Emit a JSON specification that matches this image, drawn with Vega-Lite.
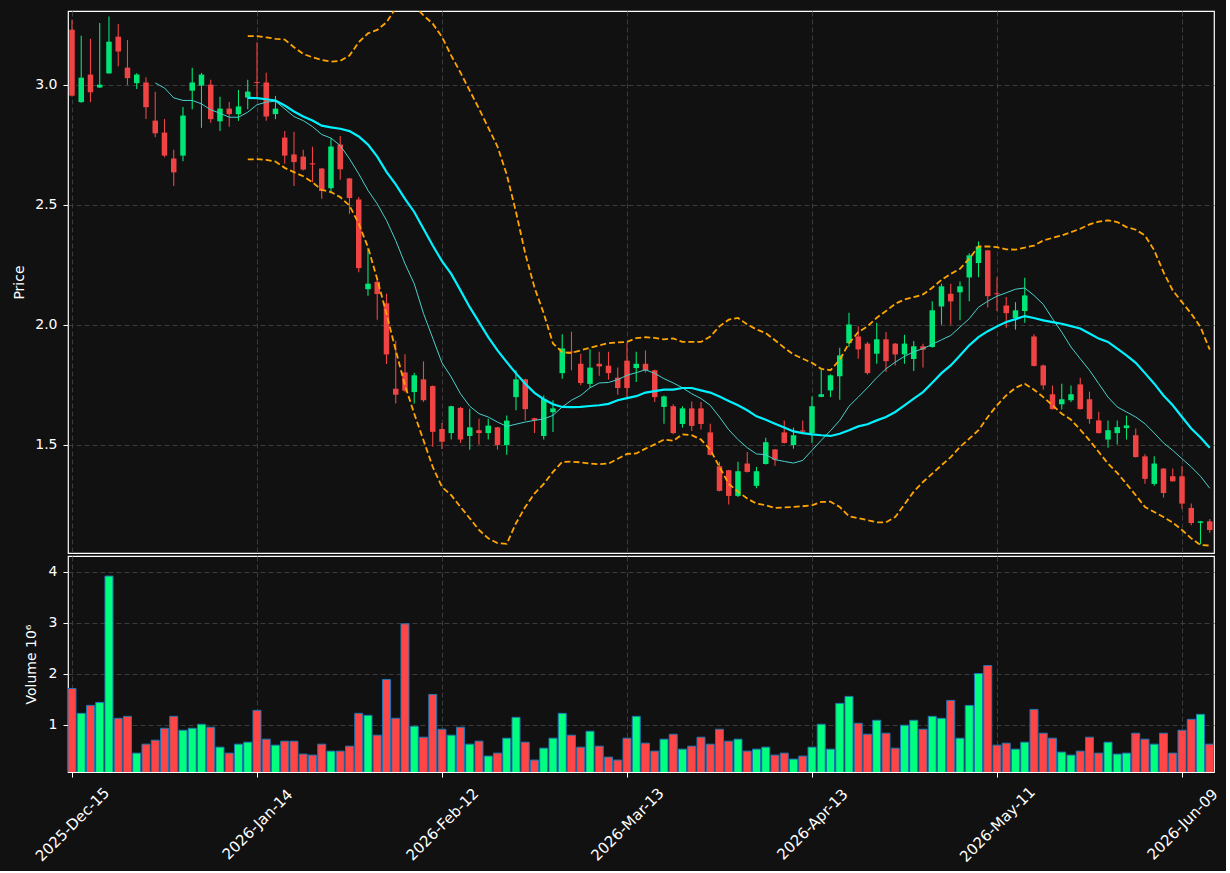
{
"$schema": "https://vega.github.io/schema/vega-lite/v6.json",
"background": "#111111",
"padding": {"left": 12, "top": 10, "right": 5, "bottom": 5},
"autosize": {"type": "pad"},
"spacing": 1,
"config": {
  "font": "DejaVu Sans",
  "view": {"stroke": "#ffffff", "strokeWidth": 1.2},
  "axis": {"domain": false, "labelColor": "#ffffff", "titleColor": "#ffffff", "tickColor": "#ffffff", "labelFontSize": 14, "titleFontSize": 14, "titleFontWeight": "normal", "tickSize": 5, "tickWidth": 1, "gridColor": "#3c3c3c", "gridDash": [5, 3], "gridWidth": 1, "labelPadding": 6}
},
"datasets": {"d": [
{"i":0,"date":"2025-12-15","o":3.230,"h":3.272,"l":2.952,"c":2.955,"v":1.714},
{"i":1,"date":"2025-12-16","o":2.928,"h":3.205,"l":2.925,"c":3.030,"v":1.227},
{"i":2,"date":"2025-12-17","o":3.043,"h":3.192,"l":2.928,"c":2.969,"v":1.383},
{"i":3,"date":"2025-12-18","o":2.989,"h":3.258,"l":2.987,"c":3.001,"v":1.442},
{"i":4,"date":"2025-12-19","o":3.048,"h":3.285,"l":3.046,"c":3.180,"v":3.916},
{"i":5,"date":"2025-12-22","o":3.201,"h":3.254,"l":3.078,"c":3.139,"v":1.130},
{"i":6,"date":"2025-12-23","o":3.072,"h":3.187,"l":3.000,"c":3.028,"v":1.169},
{"i":7,"date":"2025-12-24","o":3.007,"h":3.048,"l":2.983,"c":3.043,"v":0.448},
{"i":8,"date":"2025-12-26","o":3.010,"h":3.032,"l":2.858,"c":2.907,"v":0.623},
{"i":9,"date":"2025-12-29","o":2.851,"h":2.971,"l":2.782,"c":2.798,"v":0.701,"ma10":3.008},
{"i":10,"date":"2025-12-30","o":2.801,"h":2.858,"l":2.698,"c":2.705,"v":0.935,"ma10":2.987},
{"i":11,"date":"2025-12-31","o":2.693,"h":2.729,"l":2.578,"c":2.635,"v":1.169,"ma10":2.946},
{"i":12,"date":"2026-01-02","o":2.705,"h":2.908,"l":2.682,"c":2.872,"v":0.896,"ma10":2.935},
{"i":13,"date":"2026-01-05","o":2.976,"h":3.071,"l":2.898,"c":3.010,"v":0.935,"ma10":2.935},
{"i":14,"date":"2026-01-06","o":2.997,"h":3.050,"l":2.821,"c":3.043,"v":1.013,"ma10":2.921},
{"i":15,"date":"2026-01-07","o":3.001,"h":3.021,"l":2.842,"c":2.857,"v":0.955,"ma10":2.896},
{"i":16,"date":"2026-01-08","o":2.848,"h":2.950,"l":2.808,"c":2.901,"v":0.565,"ma10":2.882},
{"i":17,"date":"2026-01-09","o":2.901,"h":2.929,"l":2.825,"c":2.878,"v":0.448,"ma10":2.865},
{"i":18,"date":"2026-01-12","o":2.878,"h":2.979,"l":2.850,"c":2.910,"v":0.623,"ma10":2.865},
{"i":19,"date":"2026-01-13","o":2.947,"h":3.021,"l":2.898,"c":2.972,"v":0.662,"ma10":2.886,"ma20":2.946,"up":3.203,"lo":2.689},
{"i":20,"date":"2026-01-14","o":3.012,"h":3.178,"l":2.948,"c":3.008,"v":1.286,"ma10":2.917,"ma20":2.945,"up":3.203,"lo":2.690},
{"i":21,"date":"2026-01-15","o":3.010,"h":3.051,"l":2.850,"c":2.868,"v":0.721,"ma10":2.928,"ma20":2.940,"up":3.198,"lo":2.687},
{"i":22,"date":"2026-01-16","o":2.878,"h":2.954,"l":2.857,"c":2.901,"v":0.604,"ma10":2.932,"ma20":2.935,"up":3.192,"lo":2.680},
{"i":23,"date":"2026-01-20","o":2.780,"h":2.808,"l":2.671,"c":2.705,"v":0.682,"ma10":2.900,"ma20":2.914,"up":3.189,"lo":2.654},
{"i":24,"date":"2026-01-21","o":2.710,"h":2.804,"l":2.578,"c":2.678,"v":0.682,"ma10":2.868,"ma20":2.889,"up":3.157,"lo":2.636},
{"i":25,"date":"2026-01-22","o":2.701,"h":2.729,"l":2.643,"c":2.647,"v":0.429,"ma10":2.851,"ma20":2.868,"up":3.129,"lo":2.619},
{"i":26,"date":"2026-01-23","o":2.673,"h":2.742,"l":2.594,"c":2.668,"v":0.409,"ma10":2.826,"ma20":2.851,"up":3.115,"lo":2.594},
{"i":27,"date":"2026-01-26","o":2.651,"h":2.653,"l":2.525,"c":2.557,"v":0.623,"ma10":2.793,"ma20":2.830,"up":3.104,"lo":2.562},
{"i":28,"date":"2026-01-27","o":2.569,"h":2.776,"l":2.548,"c":2.743,"v":0.487,"ma10":2.778,"ma20":2.823,"up":3.097,"lo":2.553},
{"i":29,"date":"2026-01-28","o":2.751,"h":2.787,"l":2.604,"c":2.648,"v":0.487,"ma10":2.747,"ma20":2.817,"up":3.100,"lo":2.532},
{"i":30,"date":"2026-01-29","o":2.610,"h":2.612,"l":2.462,"c":2.528,"v":0.584,"ma10":2.692,"ma20":2.807,"up":3.122,"lo":2.497},
{"i":31,"date":"2026-01-30","o":2.522,"h":2.532,"l":2.219,"c":2.236,"v":1.227,"ma10":2.629,"ma20":2.785,"up":3.178,"lo":2.421},
{"i":32,"date":"2026-02-02","o":2.148,"h":2.321,"l":2.121,"c":2.171,"v":1.188,"ma10":2.560,"ma20":2.751,"up":3.215,"lo":2.323},
{"i":33,"date":"2026-02-03","o":2.179,"h":2.190,"l":2.021,"c":2.128,"v":0.799,"ma10":2.504,"ma20":2.701,"up":3.229,"lo":2.190},
{"i":34,"date":"2026-02-04","o":2.089,"h":2.129,"l":1.836,"c":1.876,"v":1.890,"ma10":2.435,"ma20":2.637,"up":3.261,"lo":2.046},
{"i":35,"date":"2026-02-05","o":1.733,"h":1.933,"l":1.671,"c":1.708,"v":1.130,"ma10":2.351,"ma20":2.585,"up":3.320,"lo":1.893},
{"i":36,"date":"2026-02-06","o":1.801,"h":1.877,"l":1.718,"c":1.725,"v":2.981,"ma10":2.254,"ma20":2.525,"up":3.350,"lo":1.747},
{"i":37,"date":"2026-02-09","o":1.719,"h":1.800,"l":1.671,"c":1.789,"v":0.974,"ma10":2.171,"ma20":2.470,"up":3.330,"lo":1.629},
{"i":38,"date":"2026-02-10","o":1.772,"h":1.847,"l":1.678,"c":1.685,"v":0.760,"ma10":2.047,"ma20":2.400,"up":3.290,"lo":1.518},
{"i":39,"date":"2026-02-11","o":1.744,"h":1.746,"l":1.491,"c":1.553,"v":1.598,"ma10":1.944,"ma20":2.330,"up":3.255,"lo":1.407},
{"i":40,"date":"2026-02-12","o":1.565,"h":1.590,"l":1.482,"c":1.512,"v":0.916,"ma10":1.841,"ma20":2.265,"up":3.200,"lo":1.323},
{"i":41,"date":"2026-02-13","o":1.548,"h":1.662,"l":1.521,"c":1.660,"v":0.799,"ma10":1.782,"ma20":2.212,"up":3.122,"lo":1.289},
{"i":42,"date":"2026-02-17","o":1.653,"h":1.657,"l":1.507,"c":1.521,"v":0.955,"ma10":1.712,"ma20":2.143,"up":3.051,"lo":1.240},
{"i":43,"date":"2026-02-18","o":1.536,"h":1.649,"l":1.479,"c":1.572,"v":0.623,"ma10":1.660,"ma20":2.073,"up":2.976,"lo":1.193},
{"i":44,"date":"2026-02-19","o":1.560,"h":1.608,"l":1.500,"c":1.548,"v":0.682,"ma10":1.629,"ma20":2.011,"up":2.901,"lo":1.144},
{"i":45,"date":"2026-02-20","o":1.548,"h":1.608,"l":1.521,"c":1.579,"v":0.390,"ma10":1.615,"ma20":1.948,"up":2.822,"lo":1.109},
{"i":46,"date":"2026-02-23","o":1.572,"h":1.574,"l":1.479,"c":1.498,"v":0.448,"ma10":1.594,"ma20":1.893,"up":2.743,"lo":1.089},
{"i":47,"date":"2026-02-24","o":1.498,"h":1.621,"l":1.458,"c":1.600,"v":0.740,"ma10":1.576,"ma20":1.844,"up":2.626,"lo":1.086},
{"i":48,"date":"2026-02-25","o":1.698,"h":1.810,"l":1.643,"c":1.772,"v":1.149,"ma10":1.585,"ma20":1.797,"up":2.470,"lo":1.172},
{"i":49,"date":"2026-02-26","o":1.772,"h":1.775,"l":1.600,"c":1.648,"v":0.662,"ma10":1.594,"ma20":1.754,"up":2.297,"lo":1.240},
{"i":50,"date":"2026-02-27","o":1.610,"h":1.612,"l":1.548,"c":1.602,"v":0.312,"ma10":1.601,"ma20":1.716,"up":2.155,"lo":1.296},
{"i":51,"date":"2026-03-02","o":1.536,"h":1.705,"l":1.521,"c":1.690,"v":0.545,"ma10":1.607,"ma20":1.689,"up":2.047,"lo":1.336},
{"i":52,"date":"2026-03-03","o":1.635,"h":1.685,"l":1.553,"c":1.651,"v":0.740,"ma10":1.622,"ma20":1.668,"up":1.922,"lo":1.386},
{"i":53,"date":"2026-03-04","o":1.798,"h":1.960,"l":1.775,"c":1.901,"v":1.227,"ma10":1.657,"ma20":1.657,"up":1.885,"lo":1.428},
{"i":54,"date":"2026-03-05","o":1.888,"h":1.971,"l":1.810,"c":1.884,"v":0.799,"ma10":1.685,"ma20":1.656,"up":1.882,"lo":1.429},
{"i":55,"date":"2026-03-06","o":1.837,"h":1.879,"l":1.747,"c":1.757,"v":0.565,"ma10":1.705,"ma20":1.657,"up":1.893,"lo":1.426},
{"i":56,"date":"2026-03-09","o":1.753,"h":1.898,"l":1.737,"c":1.821,"v":0.877,"ma10":1.737,"ma20":1.661,"up":1.904,"lo":1.421},
{"i":57,"date":"2026-03-10","o":1.837,"h":1.887,"l":1.787,"c":1.826,"v":0.584,"ma10":1.757,"ma20":1.664,"up":1.914,"lo":1.418},
{"i":58,"date":"2026-03-11","o":1.829,"h":1.887,"l":1.771,"c":1.798,"v":0.370,"ma10":1.759,"ma20":1.670,"up":1.923,"lo":1.421},
{"i":59,"date":"2026-03-12","o":1.779,"h":1.821,"l":1.708,"c":1.736,"v":0.312,"ma10":1.771,"ma20":1.685,"up":1.926,"lo":1.441},
{"i":60,"date":"2026-03-13","o":1.850,"h":1.926,"l":1.698,"c":1.736,"v":0.740,"ma10":1.789,"ma20":1.694,"up":1.928,"lo":1.461},
{"i":61,"date":"2026-03-16","o":1.819,"h":1.887,"l":1.761,"c":1.837,"v":1.169,"ma10":1.800,"ma20":1.702,"up":1.944,"lo":1.463},
{"i":62,"date":"2026-03-17","o":1.837,"h":1.893,"l":1.800,"c":1.810,"v":0.643,"ma10":1.812,"ma20":1.717,"up":1.948,"lo":1.483},
{"i":63,"date":"2026-03-18","o":1.810,"h":1.812,"l":1.678,"c":1.698,"v":0.487,"ma10":1.797,"ma20":1.723,"up":1.945,"lo":1.501},
{"i":64,"date":"2026-03-19","o":1.657,"h":1.705,"l":1.587,"c":1.701,"v":0.721,"ma10":1.775,"ma20":1.729,"up":1.939,"lo":1.521},
{"i":65,"date":"2026-03-20","o":1.660,"h":1.668,"l":1.543,"c":1.548,"v":0.818,"ma10":1.757,"ma20":1.729,"up":1.943,"lo":1.516},
{"i":66,"date":"2026-03-23","o":1.586,"h":1.660,"l":1.571,"c":1.651,"v":0.526,"ma10":1.737,"ma20":1.736,"up":1.928,"lo":1.543},
{"i":67,"date":"2026-03-24","o":1.651,"h":1.680,"l":1.557,"c":1.578,"v":0.584,"ma10":1.712,"ma20":1.736,"up":1.928,"lo":1.539},
{"i":68,"date":"2026-03-25","o":1.651,"h":1.678,"l":1.563,"c":1.586,"v":0.760,"ma10":1.692,"ma20":1.726,"up":1.928,"lo":1.521},
{"i":69,"date":"2026-03-26","o":1.551,"h":1.587,"l":1.455,"c":1.457,"v":0.623,"ma10":1.664,"ma20":1.717,"up":1.951,"lo":1.479},
{"i":70,"date":"2026-03-27","o":1.410,"h":1.428,"l":1.305,"c":1.307,"v":0.916,"ma10":1.615,"ma20":1.701,"up":1.993,"lo":1.407},
{"i":71,"date":"2026-03-30","o":1.393,"h":1.395,"l":1.250,"c":1.286,"v":0.682,"ma10":1.562,"ma20":1.682,"up":2.021,"lo":1.336},
{"i":72,"date":"2026-03-31","o":1.286,"h":1.428,"l":1.282,"c":1.389,"v":0.721,"ma10":1.521,"ma20":1.664,"up":2.028,"lo":1.304},
{"i":73,"date":"2026-04-01","o":1.421,"h":1.469,"l":1.384,"c":1.386,"v":0.487,"ma10":1.487,"ma20":1.643,"up":2.001,"lo":1.275},
{"i":74,"date":"2026-04-02","o":1.328,"h":1.407,"l":1.318,"c":1.389,"v":0.526,"ma10":1.461,"ma20":1.618,"up":1.980,"lo":1.254},
{"i":75,"date":"2026-04-06","o":1.419,"h":1.529,"l":1.417,"c":1.510,"v":0.565,"ma10":1.458,"ma20":1.604,"up":1.965,"lo":1.247},
{"i":76,"date":"2026-04-07","o":1.480,"h":1.482,"l":1.412,"c":1.437,"v":0.409,"ma10":1.437,"ma20":1.587,"up":1.935,"lo":1.236},
{"i":77,"date":"2026-04-08","o":1.551,"h":1.600,"l":1.505,"c":1.507,"v":0.448,"ma10":1.430,"ma20":1.571,"up":1.904,"lo":1.238},
{"i":78,"date":"2026-04-09","o":1.498,"h":1.571,"l":1.483,"c":1.539,"v":0.331,"ma10":1.423,"ma20":1.555,"up":1.876,"lo":1.240},
{"i":79,"date":"2026-04-10","o":1.559,"h":1.600,"l":1.548,"c":1.554,"v":0.390,"ma10":1.434,"ma20":1.548,"up":1.858,"lo":1.243},
{"i":80,"date":"2026-04-13","o":1.548,"h":1.701,"l":1.507,"c":1.660,"v":0.565,"ma10":1.476,"ma20":1.543,"up":1.841,"lo":1.247},
{"i":81,"date":"2026-04-14","o":1.699,"h":1.812,"l":1.697,"c":1.710,"v":1.013,"ma10":1.518,"ma20":1.539,"up":1.816,"lo":1.261},
{"i":82,"date":"2026-04-15","o":1.726,"h":1.793,"l":1.698,"c":1.789,"v":0.526,"ma10":1.558,"ma20":1.536,"up":1.810,"lo":1.262},
{"i":83,"date":"2026-04-16","o":1.785,"h":1.904,"l":1.687,"c":1.872,"v":1.422,"ma10":1.601,"ma20":1.545,"up":1.854,"lo":1.240},
{"i":84,"date":"2026-04-17","o":1.923,"h":2.050,"l":1.907,"c":2.001,"v":1.559,"ma10":1.660,"ma20":1.560,"up":1.923,"lo":1.201},
{"i":85,"date":"2026-04-20","o":1.951,"h":1.994,"l":1.858,"c":1.897,"v":1.033,"ma10":1.698,"ma20":1.576,"up":1.969,"lo":1.193},
{"i":86,"date":"2026-04-21","o":1.921,"h":1.928,"l":1.792,"c":1.798,"v":0.818,"ma10":1.737,"ma20":1.585,"up":1.993,"lo":1.185},
{"i":87,"date":"2026-04-22","o":1.879,"h":2.008,"l":1.837,"c":1.939,"v":1.091,"ma10":1.779,"ma20":1.601,"up":2.029,"lo":1.176},
{"i":88,"date":"2026-04-23","o":1.939,"h":1.969,"l":1.803,"c":1.848,"v":0.838,"ma10":1.816,"ma20":1.615,"up":2.057,"lo":1.176},
{"i":89,"date":"2026-04-24","o":1.921,"h":1.924,"l":1.830,"c":1.876,"v":0.545,"ma10":1.844,"ma20":1.636,"up":2.087,"lo":1.198},
{"i":90,"date":"2026-04-27","o":1.876,"h":1.958,"l":1.837,"c":1.921,"v":0.994,"ma10":1.868,"ma20":1.664,"up":2.105,"lo":1.251},
{"i":91,"date":"2026-04-28","o":1.857,"h":1.932,"l":1.807,"c":1.910,"v":1.091,"ma10":1.887,"ma20":1.692,"up":2.115,"lo":1.304},
{"i":92,"date":"2026-04-29","o":1.910,"h":1.921,"l":1.821,"c":1.896,"v":0.916,"ma10":1.900,"ma20":1.719,"up":2.126,"lo":1.344},
{"i":93,"date":"2026-04-30","o":1.907,"h":2.098,"l":1.904,"c":2.060,"v":1.169,"ma10":1.918,"ma20":1.758,"up":2.154,"lo":1.379},
{"i":94,"date":"2026-05-01","o":2.076,"h":2.171,"l":2.000,"c":2.160,"v":1.130,"ma10":1.937,"ma20":1.798,"up":2.187,"lo":1.414},
{"i":95,"date":"2026-05-04","o":2.129,"h":2.171,"l":2.000,"c":2.097,"v":1.481,"ma10":1.955,"ma20":1.830,"up":2.212,"lo":1.448},
{"i":96,"date":"2026-05-05","o":2.135,"h":2.180,"l":2.019,"c":2.160,"v":0.740,"ma10":1.990,"ma20":1.872,"up":2.233,"lo":1.490},
{"i":97,"date":"2026-05-06","o":2.197,"h":2.298,"l":2.098,"c":2.289,"v":1.383,"ma10":2.025,"ma20":1.914,"up":2.275,"lo":1.525},
{"i":98,"date":"2026-05-07","o":2.257,"h":2.347,"l":2.198,"c":2.326,"v":2.007,"ma10":2.073,"ma20":1.948,"up":2.326,"lo":1.560},
{"i":99,"date":"2026-05-08","o":2.310,"h":2.312,"l":2.072,"c":2.119,"v":2.163,"ma10":2.098,"ma20":1.973,"up":2.326,"lo":1.615},
{"i":100,"date":"2026-05-11","o":2.131,"h":2.198,"l":2.057,"c":2.127,"v":0.604,"ma10":2.119,"ma20":1.993,"up":2.323,"lo":1.664},
{"i":101,"date":"2026-05-12","o":2.080,"h":2.115,"l":1.987,"c":2.048,"v":0.643,"ma10":2.133,"ma20":2.011,"up":2.314,"lo":1.705},
{"i":102,"date":"2026-05-13","o":2.028,"h":2.094,"l":1.979,"c":2.060,"v":0.526,"ma10":2.148,"ma20":2.023,"up":2.313,"lo":1.737},
{"i":103,"date":"2026-05-14","o":2.057,"h":2.196,"l":2.008,"c":2.122,"v":0.662,"ma10":2.153,"ma20":2.036,"up":2.321,"lo":1.754},
{"i":104,"date":"2026-05-15","o":1.951,"h":1.960,"l":1.826,"c":1.828,"v":1.305,"ma10":2.122,"ma20":2.028,"up":2.330,"lo":1.729},
{"i":105,"date":"2026-05-18","o":1.830,"h":1.834,"l":1.729,"c":1.747,"v":0.838,"ma10":2.085,"ma20":2.018,"up":2.351,"lo":1.698},
{"i":106,"date":"2026-05-19","o":1.710,"h":1.746,"l":1.646,"c":1.648,"v":0.740,"ma10":2.025,"ma20":2.011,"up":2.362,"lo":1.664},
{"i":107,"date":"2026-05-20","o":1.668,"h":1.754,"l":1.646,"c":1.689,"v":0.468,"ma10":1.969,"ma20":2.004,"up":2.372,"lo":1.629},
{"i":108,"date":"2026-05-21","o":1.685,"h":1.746,"l":1.678,"c":1.710,"v":0.409,"ma10":1.907,"ma20":1.994,"up":2.386,"lo":1.604},
{"i":109,"date":"2026-05-22","o":1.751,"h":1.779,"l":1.646,"c":1.648,"v":0.487,"ma10":1.858,"ma20":1.984,"up":2.400,"lo":1.562},
{"i":110,"date":"2026-05-26","o":1.689,"h":1.721,"l":1.587,"c":1.607,"v":0.760,"ma10":1.810,"ma20":1.963,"up":2.418,"lo":1.518},
{"i":111,"date":"2026-05-27","o":1.601,"h":1.637,"l":1.546,"c":1.548,"v":0.448,"ma10":1.754,"ma20":1.942,"up":2.430,"lo":1.469},
{"i":112,"date":"2026-05-28","o":1.521,"h":1.600,"l":1.487,"c":1.560,"v":0.662,"ma10":1.698,"ma20":1.928,"up":2.435,"lo":1.421},
{"i":113,"date":"2026-05-29","o":1.548,"h":1.600,"l":1.500,"c":1.573,"v":0.429,"ma10":1.657,"ma20":1.900,"up":2.428,"lo":1.382},
{"i":114,"date":"2026-06-01","o":1.569,"h":1.621,"l":1.521,"c":1.580,"v":0.448,"ma10":1.636,"ma20":1.872,"up":2.407,"lo":1.336},
{"i":115,"date":"2026-06-02","o":1.539,"h":1.567,"l":1.446,"c":1.448,"v":0.838,"ma10":1.615,"ma20":1.841,"up":2.396,"lo":1.289},
{"i":116,"date":"2026-06-03","o":1.451,"h":1.460,"l":1.337,"c":1.357,"v":0.721,"ma10":1.587,"ma20":1.798,"up":2.372,"lo":1.240},
{"i":117,"date":"2026-06-04","o":1.336,"h":1.451,"l":1.328,"c":1.421,"v":0.623,"ma10":1.548,"ma20":1.754,"up":2.310,"lo":1.219},
{"i":118,"date":"2026-06-05","o":1.400,"h":1.402,"l":1.279,"c":1.298,"v":0.838,"ma10":1.507,"ma20":1.705,"up":2.219,"lo":1.198},
{"i":119,"date":"2026-06-08","o":1.368,"h":1.400,"l":1.345,"c":1.347,"v":0.448,"ma10":1.476,"ma20":1.664,"up":2.143,"lo":1.175},
{"i":120,"date":"2026-06-09","o":1.368,"h":1.411,"l":1.233,"c":1.254,"v":0.896,"ma10":1.441,"ma20":1.615,"up":2.094,"lo":1.144},
{"i":121,"date":"2026-06-10","o":1.236,"h":1.254,"l":1.164,"c":1.173,"v":1.110,"ma10":1.407,"ma20":1.567,"up":2.046,"lo":1.109},
{"i":122,"date":"2026-06-11","o":1.174,"h":1.182,"l":1.084,"c":1.180,"v":1.208,"ma10":1.368,"ma20":1.530,"up":1.990,"lo":1.081},
{"i":123,"date":"2026-06-12","o":1.180,"h":1.190,"l":1.132,"c":1.144,"v":0.623,"ma10":1.318,"ma20":1.487,"up":1.896,"lo":1.079}
]},
"vconcat": [
{
  "width": 1146, "height": 542,
  "data": {"name": "d"},
  "encoding": {"x": {"field": "i", "type": "quantitative", "scale": {"domain": [-0.43, 123.46], "nice": false, "zero": false, "padding": 0}, "axis": {"values": [0, 20, 40, 60, 80, 100, 120], "labels": false, "ticks": false, "title": null, "grid": true, "minExtent": 0, "maxExtent": 0}}},
  "layer": [
    {"mark": {"type": "rule", "strokeWidth": 1.1, "clip": true},
     "encoding": {"y": {"field": "l", "type": "quantitative", "title": "Price", "scale": {"domain": [1.048, 3.308], "nice": false, "zero": false}, "axis": {"values": [1.5, 2, 2.5, 3], "format": ".1f", "titlePadding": 8, "grid": true}},
       "y2": {"field": "h"},
       "color": {"condition": {"test": "datum.c >= datum.o", "value": "#00e676"}, "value": "#f04343"}}},
    {"mark": {"type": "bar", "width": 5.5, "clip": true},
     "encoding": {"y": {"field": "o", "type": "quantitative", "title": "Price", "scale": {"domain": [1.048, 3.308], "nice": false, "zero": false}},
       "y2": {"field": "c"},
       "color": {"condition": {"test": "datum.c >= datum.o", "value": "#00e676"}, "value": "#f04343"}}},
    {"mark": {"type": "line", "color": "#48d1cc", "strokeWidth": 1, "clip": true},
     "encoding": {"y": {"field": "ma10", "type": "quantitative", "title": "Price", "scale": {"domain": [1.048, 3.308], "nice": false, "zero": false}}}},
    {"mark": {"type": "line", "color": "#00f2ff", "strokeWidth": 2.2, "clip": true},
     "encoding": {"y": {"field": "ma20", "type": "quantitative", "title": "Price", "scale": {"domain": [1.048, 3.308], "nice": false, "zero": false}}}},
    {"mark": {"type": "line", "color": "#ffa500", "strokeWidth": 1.8, "strokeDash": [6, 3], "clip": true},
     "encoding": {"y": {"field": "up", "type": "quantitative", "title": "Price", "scale": {"domain": [1.048, 3.308], "nice": false, "zero": false}}}},
    {"mark": {"type": "line", "color": "#ffa500", "strokeWidth": 1.8, "strokeDash": [6, 3], "clip": true},
     "encoding": {"y": {"field": "lo", "type": "quantitative", "title": "Price", "scale": {"domain": [1.048, 3.308], "nice": false, "zero": false}}}}
  ]
},
{
  "width": 1146, "height": 216,
  "data": {"name": "d"},
  "mark": {"type": "bar", "width": 8, "stroke": "#1f77b4", "strokeWidth": 1, "clip": true},
  "encoding": {
    "x": {"field": "i", "type": "quantitative", "scale": {"domain": [-0.43, 123.46], "nice": false, "zero": false, "padding": 0},
      "axis": {"values": [0, 20, 40, 60, 80, 100, 120], "labelExpr": "['2025-Dec-15','2026-Jan-14','2026-Feb-12','2026-Mar-13','2026-Apr-13','2026-May-11','2026-Jun-09'][round(datum.value/20)]", "labelAngle": -45, "labelAlign": "center", "labelBaseline": "middle", "labelPadding": 47, "labelFontSize": 15, "labelOverlap": false, "labelBound": false, "title": null, "grid": true}},
    "y": {"field": "v", "type": "quantitative", "scale": {"domain": [0.078, 4.31], "nice": false, "zero": false}, "axis": {"values": [1, 2, 3, 4], "title": "Volume  10⁶", "titlePadding": 10, "grid": true}},
    "color": {"condition": {"test": "datum.c >= datum.o", "value": "#00ff7f"}, "value": "#ff4545"}
  }
}
]
}
